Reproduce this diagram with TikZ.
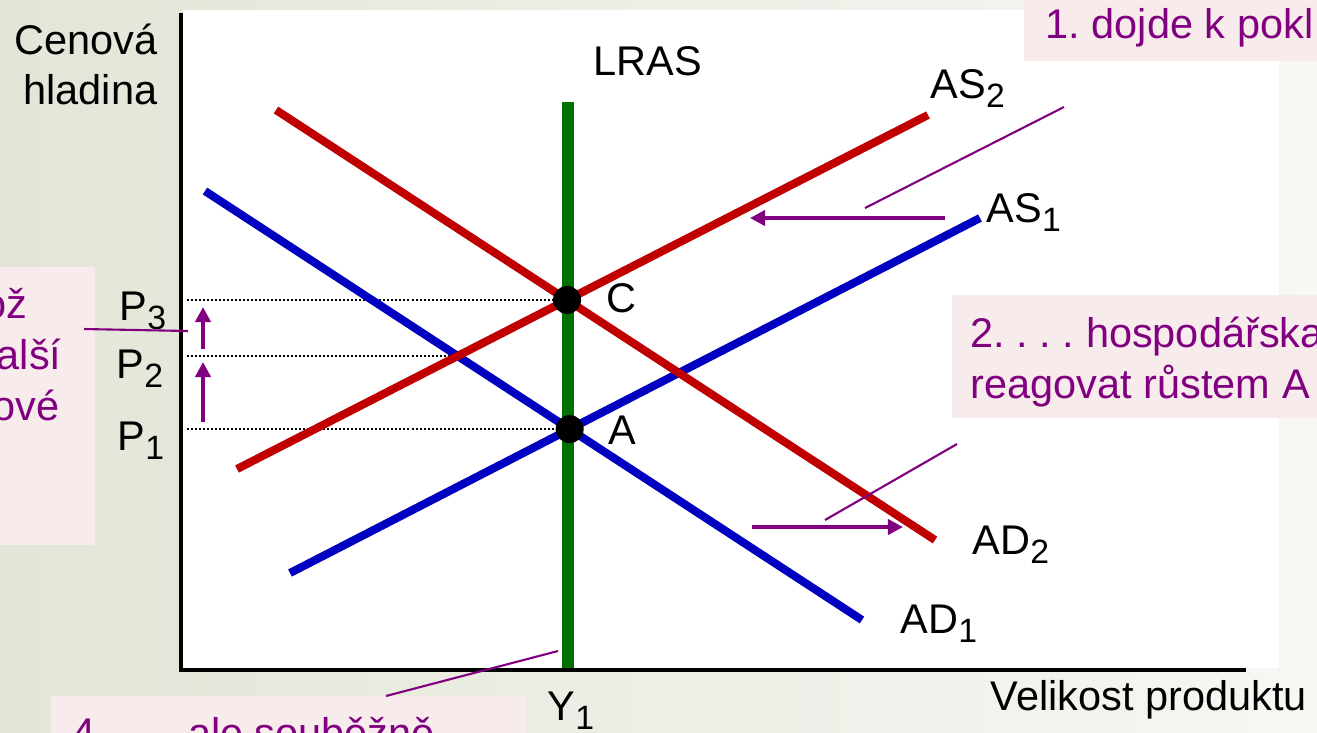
\documentclass[tikz,border=0pt]{standalone}
\usepackage{fontspec}
\setmainfont{Liberation Sans}
\usetikzlibrary{arrows.meta,positioning,calc}
\definecolor{adRed}{HTML}{C00000}
\definecolor{adBlue}{HTML}{0000C0}
\definecolor{lrGreen}{HTML}{007000}
\definecolor{notePurple}{HTML}{800080}
\definecolor{notePink}{HTML}{F7EBEC}
\definecolor{bgLeft}{HTML}{E3E5D8}
\definecolor{bgRight}{HTML}{F7F7F3}
\newcommand{\slidefont}{\fontsize{11.8pt}{14.5pt}\selectfont\frenchspacing}
\newcommand{\lowsub}[1]{\raisebox{-0.24em}{\fontsize{9.6pt}{10pt}\selectfont #1}}
\tikzset{
  lbl/.style={font=\slidefont, inner sep=0pt, anchor=base west},
  lblr/.style={lbl, anchor=base east},
  notetxt/.style={lbl, text=notePurple},
  notetxtr/.style={notetxt, anchor=base east},
  notebox/.style={fill=notePink},
  axis/.style={line width=1.4pt, black},
  curve/.style={line width=2.3pt},
  lras/.style={line width=3.4pt, lrGreen},
  guide/.style={line width=0.57pt, dash pattern=on 0.57pt off 0.57pt},
  shiftarrow/.style={-{Triangle[length=4.3pt,width=4.3pt]}, line width=1.1pt, notePurple},
  callout/.style={line width=0.6pt, notePurple},
  eqdot/.style={circle, fill=black, inner sep=0pt, minimum size=0.28cm}
}
\begin{document}
\begin{tikzpicture}[x=0.01cm, y=-0.01cm]
  \clip (0,0) rectangle (1317,732);
  \shade[left color=bgLeft, right color=bgRight] (0,0) rectangle (1317,732);
  \fill[white] (183,10) rectangle (1279,668);

  % axes
  \coordinate (ytop) at (181,13);
  \coordinate (o) at (181,670);
  \coordinate (xend) at (1246,670);
  \coordinate (yax) at (187,0);

  % curve end points
  \coordinate (ad1a) at (205,191);
  \coordinate (ad1b) at (862,620);
  \coordinate (as1a) at (290,573);
  \coordinate (as1b) at (980,218);
  \coordinate (as2a) at (237,469);
  \coordinate (as2b) at (928,115);
  \coordinate (ad2a) at (276,110);
  \coordinate (ad2b) at (935,540);
  \coordinate (lrtop) at (568,102);
  \coordinate (lrbot) at (568,670);

  \coordinate (A) at (intersection of ad1a--ad1b and as1a--as1b);
  \coordinate (B) at (intersection of ad1a--ad1b and as2a--as2b);
  \coordinate (C) at (intersection of ad2a--ad2b and as2a--as2b);

  \draw[guide] (yax |- C) -- (C);
  \draw[guide] (yax |- B) -- (B);
  \draw[guide] (yax |- A) -- (A);

  \draw[curve, adBlue] (ad1a) -- (ad1b);
  \draw[curve, adBlue] (as1a) -- (as1b);
  \draw[curve, adRed] (as2a) -- (as2b);
  \draw[curve, adRed] (ad2a) -- (ad2b);
  \draw[lras] (lrtop) -- (lrbot);
  \draw[axis] (ytop) -- (o) -- (xend);

  \node[eqdot] (dotC) at (C) {};
  \node[eqdot] (dotA) at (A) {};

  % labels
  \node[lblr] (ylab1) at (158,54) {Cenová};
  \node[lblr] (ylab2) at (158,104) {hladina};
  \node[lbl] (xlab) at (990,710) {Velikost produktu};
  \node[lbl] (lraslab) at (593,75) {LRAS};
  \node[lbl] (as2lab) at (930,98) {AS\lowsub{2}};
  \node[lbl] (as1lab) at (986,222) {AS\lowsub{1}};
  \node[lbl] (ad2lab) at (972,554) {AD\lowsub{2}};
  \node[lbl] (ad1lab) at (900,633) {AD\lowsub{1}};
  \node[lbl] (clab) at (606,312) {C};
  \node[lbl] (alab) at (608,444) {A};
  \node[lbl] (p3lab) at (119,320) {P\lowsub{3}};
  \node[lbl] (p2lab) at (116,378) {P\lowsub{2}};
  \node[lbl] (p1lab) at (117,450) {P\lowsub{1}};
  \node[lbl] (y1lab) at (547,720) {Y\lowsub{1}};

  % shifts
  \coordinate (s1a) at (945,218);
  \coordinate (s1b) at (750,218);
  \coordinate (s2a) at (752,527);
  \coordinate (s2b) at (903,527);
  \coordinate (s3a) at (203,422);
  \coordinate (s3b) at (203,362);
  \coordinate (s4a) at (203,349);
  \coordinate (s4b) at (203,307);
  \draw[shiftarrow] (s1a) -- (s1b);
  \draw[shiftarrow] (s2a) -- (s2b);
  \draw[shiftarrow] (s3a) -- (s3b);
  \draw[shiftarrow] (s4a) -- (s4b);

  % notes
  \fill[notebox] (1024,-5) rectangle (1330,61);
  \node[notetxt] (n1) at (1045,38) {1. dojde k pokl};
  \fill[notebox] (952,295) rectangle (1330,418);
  \node[notetxt] (n2a) at (970,347) {2. . . . hospodářska};
  \node[notetxt] (n2b) at (970,398) {reagovat růstem A};
  \fill[notebox] (-10,267) rectangle (95,545);
  \node[notetxtr] (n3a) at (28,318) {ož};
  \node[notetxtr] (n3b) at (62,369) {alší};
  \node[notetxtr] (n3c) at (60,420) {ové};
  \fill[notebox] (51,696) rectangle (526,740);
  \node[notetxt] (n4) at (72,747) {4. . . . ale souběžně};

  \coordinate (c1a) at (865,208);
  \coordinate (c1b) at (1064,107);
  \coordinate (c2a) at (825,520);
  \coordinate (c2b) at (957,444);
  \coordinate (c3a) at (84,329);
  \coordinate (c3b) at (188,331);
  \coordinate (c4a) at (386,696);
  \coordinate (c4b) at (558,651);
  \draw[callout] (c1a) -- (c1b);
  \draw[callout] (c2a) -- (c2b);
  \draw[callout] (c3a) -- (c3b);
  \draw[callout] (c4a) -- (c4b);
\end{tikzpicture}
\end{document}
